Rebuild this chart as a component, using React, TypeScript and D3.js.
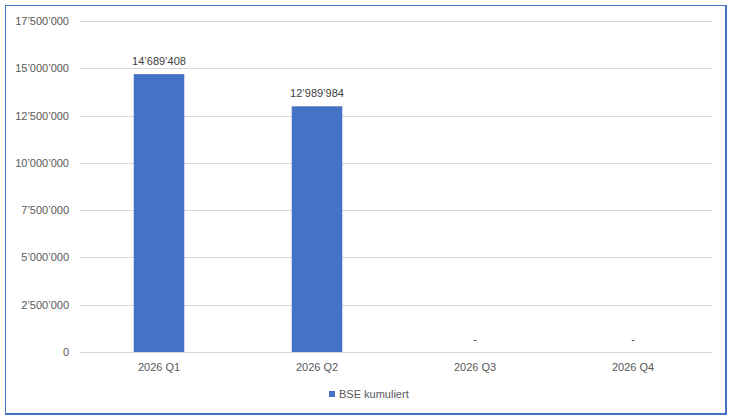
import React, { useEffect, useRef } from "react";
import * as d3 from "d3";

const categories = ["2026 Q1", "2026 Q2", "2026 Q3", "2026 Q4"];
const values = [14689408, 12989984, 0, 0];
const yTicks = [0, 2500000, 5000000, 7500000, 10000000, 12500000, 15000000, 17500000];
const seriesName = "BSE kumuliert";

const WIDTH = 730;
const HEIGHT = 417;
const FONT = "'Liberation Sans', Arial, sans-serif";

// Swiss style thousands: 14’689’408
const fmt = (v: number) =>
  v === 0 ? "0" : Math.round(v).toString().replace(/\B(?=(\d{3})+(?!\d))/g, "\u2019");

const App: React.FC = () => {
  const ref = useRef<SVGSVGElement>(null);

  useEffect(() => {
    document.body.style.margin = "0";
    const container = ref.current;
    if (!container) return;

    const svg = d3.select(container).attr("width", WIDTH).attr("height", HEIGHT);
    svg.selectAll("*").remove();

    svg
      .append("rect")
      .attr("x", 5.5)
      .attr("y", 5.5)
      .attr("width", 720.5)
      .attr("height", 408.5)
      .attr("fill", "#fff")
      .attr("stroke", "#4472C4")
      .attr("stroke-width", 1.3)
      .attr("shape-rendering", "crispEdges");

    const left = 80;
    const right = 712;
    const top = 21;
    const bottom = 352;

    const xScale = d3.scaleBand().domain(categories).range([left, right]).paddingInner(0.68).paddingOuter(0.34);

    const yScale = d3.scaleLinear().domain([0, 17500000]).range([bottom, top]);

    // gridlines
    svg
      .append("g")
      .selectAll("line")
      .data(yTicks)
      .enter()
      .append("line")
      .attr("x1", left)
      .attr("x2", right)
      .attr("y1", (d) => Math.round(yScale(d)) + 0.5)
      .attr("y2", (d) => Math.round(yScale(d)) + 0.5)
      .attr("stroke", "#d9d9d9")
      .attr("stroke-width", 1);

    // y tick labels
    svg
      .append("g")
      .selectAll("text")
      .data(yTicks)
      .enter()
      .append("text")
      .attr("x", 69)
      .attr("y", (d) => yScale(d) + 4)
      .attr("text-anchor", "end")
      .attr("font-family", FONT)
      .attr("font-size", 11)
      .attr("fill", "#595959")
      .text((d) => fmt(d));

    // bars
    svg
      .append("g")
      .selectAll("rect")
      .data(values)
      .enter()
      .append("rect")
      .attr("x", (d, i) => xScale(categories[i])!)
      .attr("width", xScale.bandwidth())
      .attr("y", (d) => yScale(d))
      .attr("height", (d) => bottom - yScale(d))
      .attr("fill", "#4472C4");

    // data labels
    svg
      .append("g")
      .selectAll("text")
      .data(values)
      .enter()
      .append("text")
      .attr("x", (d, i) => xScale(categories[i])! + xScale.bandwidth() / 2)
      .attr("y", (d) => yScale(d) - 9)
      .attr("text-anchor", "middle")
      .attr("font-family", FONT)
      .attr("font-size", 11)
      .attr("fill", "#404040")
      .text((d) => (d === 0 ? "-" : fmt(d)));

    // x labels
    svg
      .append("g")
      .selectAll("text")
      .data(categories)
      .enter()
      .append("text")
      .attr("x", (d) => xScale(d)! + xScale.bandwidth() / 2)
      .attr("y", 371)
      .attr("text-anchor", "middle")
      .attr("font-family", FONT)
      .attr("font-size", 11)
      .attr("fill", "#595959")
      .text((d) => d);

    // legend
    const legend = svg.append("g");
    legend.append("rect").attr("x", 329).attr("y", 391).attr("width", 6).attr("height", 6).attr("fill", "#4472C4");
    legend
      .append("text")
      .attr("x", 339)
      .attr("y", 398)
      .attr("font-family", FONT)
      .attr("font-size", 11)
      .attr("fill", "#595959")
      .text(seriesName);
  }, [ref]);

  return <svg ref={ref} style={{ display: "block" }} />;
};

export default App;
